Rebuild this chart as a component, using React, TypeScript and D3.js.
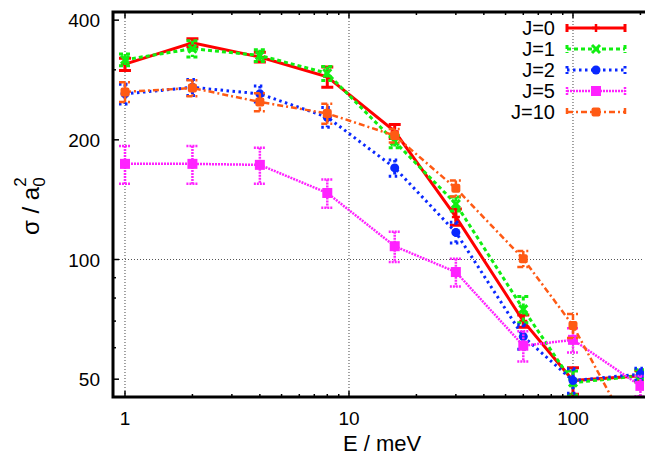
import React, { useEffect, useRef } from 'react';
import * as d3 from 'd3';

// energies (meV)
const energies = [1, 2, 4, 8, 16, 30, 60, 100, 200];

// cross sections per J, with error bars
const j0 = [310, 351, 323, 288, 210, 128, 70, 49.6, 51];
const j0Err = [11, 8, 9, 17, 8.5, 6, 2.5, 3.8, 1.5];
const j1 = [318, 339, 326, 294, 198, 138, 75, 49, 51];
const j1Err = [11, 16, 11, 12, 7, 5.6, 5.7, 3.4, 1.8];
const j2 = [261, 271, 261, 228, 170, 117, 64, 49.6, 51.5];
const j2Err = [15, 12.5, 12, 13, 8, 7, 4.5, 3.5, 1.8];
const j5 = [174, 174, 173, 147, 108, 93, 60.7, 62.8, 48.1];
const j5Err = [19, 19, 18, 12, 9.4, 7.5, 5.3, 4.4, 2.8];
const j10 = [264, 270, 249, 233, 205, 151, 100.4, 68.2, 33];
const j10Err = [15, 12.5, 13, 13.5, 8, 7, 4.6, 4.7, 1];

const seriesNames = ['J=0', 'J=1', 'J=2', 'J=5', 'J=10'];

const xMajor = [1, 10, 100];
const xMinor = [2, 3, 4, 5, 6, 7, 8, 9, 20, 30, 40, 50, 60, 70, 80, 90, 200];
const yMajor = [50, 100, 200, 400];
const yMinor = [60, 70, 80, 90, 300];

const App = () => {
  const ref = useRef(null);

  useEffect(() => {
    const W = 645;
    const H = 456;
    const left = 113, right = 644, top = 12, bottom = 397;
    const font = '"Liberation Sans", Arial, sans-serif';

    d3.select(ref.current).selectAll('*').remove();
    const svg = d3.select(ref.current)
      .append('svg')
      .attr('width', W)
      .attr('height', H)
      .style('position', 'absolute')
      .style('left', '0px')
      .style('top', '0px')
      .style('background', '#fff');

    const x = d3.scaleLog().domain([0.884, 207.5]).range([left, right]);
    const y = d3.scaleLog().domain([45.1, 419.3]).range([bottom, top]);

    svg.append('clipPath').attr('id', 'plotclip')
      .append('rect')
      .attr('x', left).attr('y', top)
      .attr('width', right - left).attr('height', bottom - top);

    // grid on decades
    const grid = svg.append('g');
    xMajor.forEach(v => {
      grid.append('line')
        .attr('x1', x(v)).attr('x2', x(v))
        .attr('y1', top).attr('y2', bottom)
        .attr('stroke', '#444').attr('stroke-width', 1)
        .attr('stroke-dasharray', '1,2');
    });
    grid.append('line')
      .attr('x1', left).attr('x2', right)
      .attr('y1', y(100)).attr('y2', y(100))
      .attr('stroke', '#555').attr('stroke-width', 1)
      .attr('stroke-dasharray', '1,2');

    // ticks (inward, mirrored on top)
    const ticks = svg.append('g').attr('stroke', '#000').attr('stroke-width', 1.5);
    xMajor.forEach(v => {
      ticks.append('line').attr('x1', x(v)).attr('x2', x(v)).attr('y1', bottom).attr('y2', bottom - 6);
      ticks.append('line').attr('x1', x(v)).attr('x2', x(v)).attr('y1', top).attr('y2', top + 6);
    });
    xMinor.forEach(v => {
      ticks.append('line').attr('x1', x(v)).attr('x2', x(v)).attr('y1', bottom).attr('y2', bottom - 3);
      ticks.append('line').attr('x1', x(v)).attr('x2', x(v)).attr('y1', top).attr('y2', top + 3);
    });
    yMajor.forEach(v => {
      ticks.append('line').attr('x1', left).attr('x2', left + 6).attr('y1', y(v)).attr('y2', y(v));
    });
    yMinor.forEach(v => {
      ticks.append('line').attr('x1', left).attr('x2', left + 3).attr('y1', y(v)).attr('y2', y(v));
    });

    // tick labels
    svg.append('g').selectAll('text').data(xMajor).enter().append('text')
      .attr('x', d => x(d)).attr('y', 425)
      .attr('text-anchor', 'middle')
      .attr('font-family', font).attr('font-size', 19)
      .text(d => d);
    svg.append('g').selectAll('text').data(yMajor).enter().append('text')
      .attr('x', 100).attr('y', d => y(d) + 7)
      .attr('text-anchor', 'end')
      .attr('font-family', font).attr('font-size', 19)
      .text(d => d);

    // axis titles
    svg.append('text')
      .attr('x', 382).attr('y', 451)
      .attr('text-anchor', 'middle')
      .attr('font-family', font).attr('font-size', 22)
      .text('E / meV');
    const yt = svg.append('text')
      .attr('transform', 'translate(38.5,235) rotate(-90)')
      .attr('text-anchor', 'start')
      .attr('font-family', font).attr('font-size', 24);
    yt.append('tspan').text('σ / a');
    yt.append('tspan').attr('font-size', 17).attr('dy', 6).text('0');
    yt.append('tspan').attr('font-size', 17).attr('dy', -19).attr('dx', -9.5).text('2');

    const series = [
      { vals: j0, errs: j0Err, color: '#ff0000', width: 3, dash: null, mark: 'plus' },
      { vals: j1, errs: j1Err, color: '#11ee11', width: 3, dash: '4,3', mark: 'cross' },
      { vals: j2, errs: j2Err, color: '#0a28ff', width: 3, dash: '2.5,3.5', mark: 'circle' },
      { vals: j5, errs: j5Err, color: '#ff22ff', width: 2.5, dash: '2,1', mark: 'square' },
      { vals: j10, errs: j10Err, color: '#ff5a14', width: 2.5, dash: '6,3,2,3', mark: 'dot' },
    ];

    const drawMarker = (g, cx, cy, s) => {
      if (s.mark === 'plus') {
        g.append('path').attr('d', `M${cx - 4},${cy}H${cx + 4}M${cx},${cy - 4}V${cy + 4}`)
          .attr('stroke', s.color).attr('stroke-width', 2.5);
      } else if (s.mark === 'cross') {
        g.append('path').attr('d', `M${cx - 4},${cy - 4}L${cx + 4},${cy + 4}M${cx - 4},${cy + 4}L${cx + 4},${cy - 4}`)
          .attr('stroke', s.color).attr('stroke-width', 3);
      } else if (s.mark === 'circle') {
        g.append('circle').attr('cx', cx).attr('cy', cy).attr('r', 4.5).attr('fill', s.color);
      } else if (s.mark === 'square') {
        g.append('rect').attr('x', cx - 5).attr('y', cy - 5).attr('width', 10).attr('height', 10).attr('fill', s.color);
      } else {
        g.append('rect').attr('x', cx - 4.5).attr('y', cy - 4.5).attr('width', 9).attr('height', 9)
          .attr('rx', 2).attr('fill', s.color);
      }
    };

    const plot = svg.append('g').attr('clip-path', 'url(#plotclip)');
    const line = d3.line().x(d => x(d[0])).y(d => y(d[1]));

    series.forEach(s => {
      const g = plot.append('g');
      const pts = energies.map((e, i) => [e, s.vals[i]]);
      // error bars
      pts.forEach((p, i) => {
        const cx = x(p[0]);
        const y1 = y(p[1] + s.errs[i]);
        const y2 = y(p[1] - s.errs[i]);
        g.append('path')
          .attr('d', `M${cx},${y1}V${y2}M${cx - 6},${y1}H${cx + 6}M${cx - 6},${y2}H${cx + 6}`)
          .attr('fill', 'none')
          .attr('stroke', s.color).attr('stroke-width', s.width)
          .attr('stroke-dasharray', s.dash);
      });
      g.append('path')
        .attr('d', line(pts))
        .attr('fill', 'none')
        .attr('stroke', s.color).attr('stroke-width', s.width)
        .attr('stroke-dasharray', s.dash);
      pts.forEach(p => drawMarker(g, x(p[0]), y(p[1]), s));
    });

    // legend
    const leg = svg.append('g');
    series.forEach((s, i) => {
      const ly = 28 + i * 21;
      leg.append('text')
        .attr('x', 555).attr('y', ly + 7)
        .attr('text-anchor', 'end')
        .attr('font-family', font).attr('font-size', 20)
        .text(seriesNames[i]);
      leg.append('path')
        .attr('d', `M567,${ly}H625M567,${ly - 4}V${ly + 4}M625,${ly - 4}V${ly + 4}`)
        .attr('fill', 'none')
        .attr('stroke', s.color).attr('stroke-width', s.width)
        .attr('stroke-dasharray', s.dash);
      drawMarker(leg, 596, ly, s);
    });

    // border
    svg.append('rect')
      .attr('x', left).attr('y', top)
      .attr('width', right - left + 4).attr('height', bottom - top)
      .attr('fill', 'none').attr('stroke', '#000').attr('stroke-width', 3);
  }, []);

  return <div ref={ref}></div>;
};

export default App;
